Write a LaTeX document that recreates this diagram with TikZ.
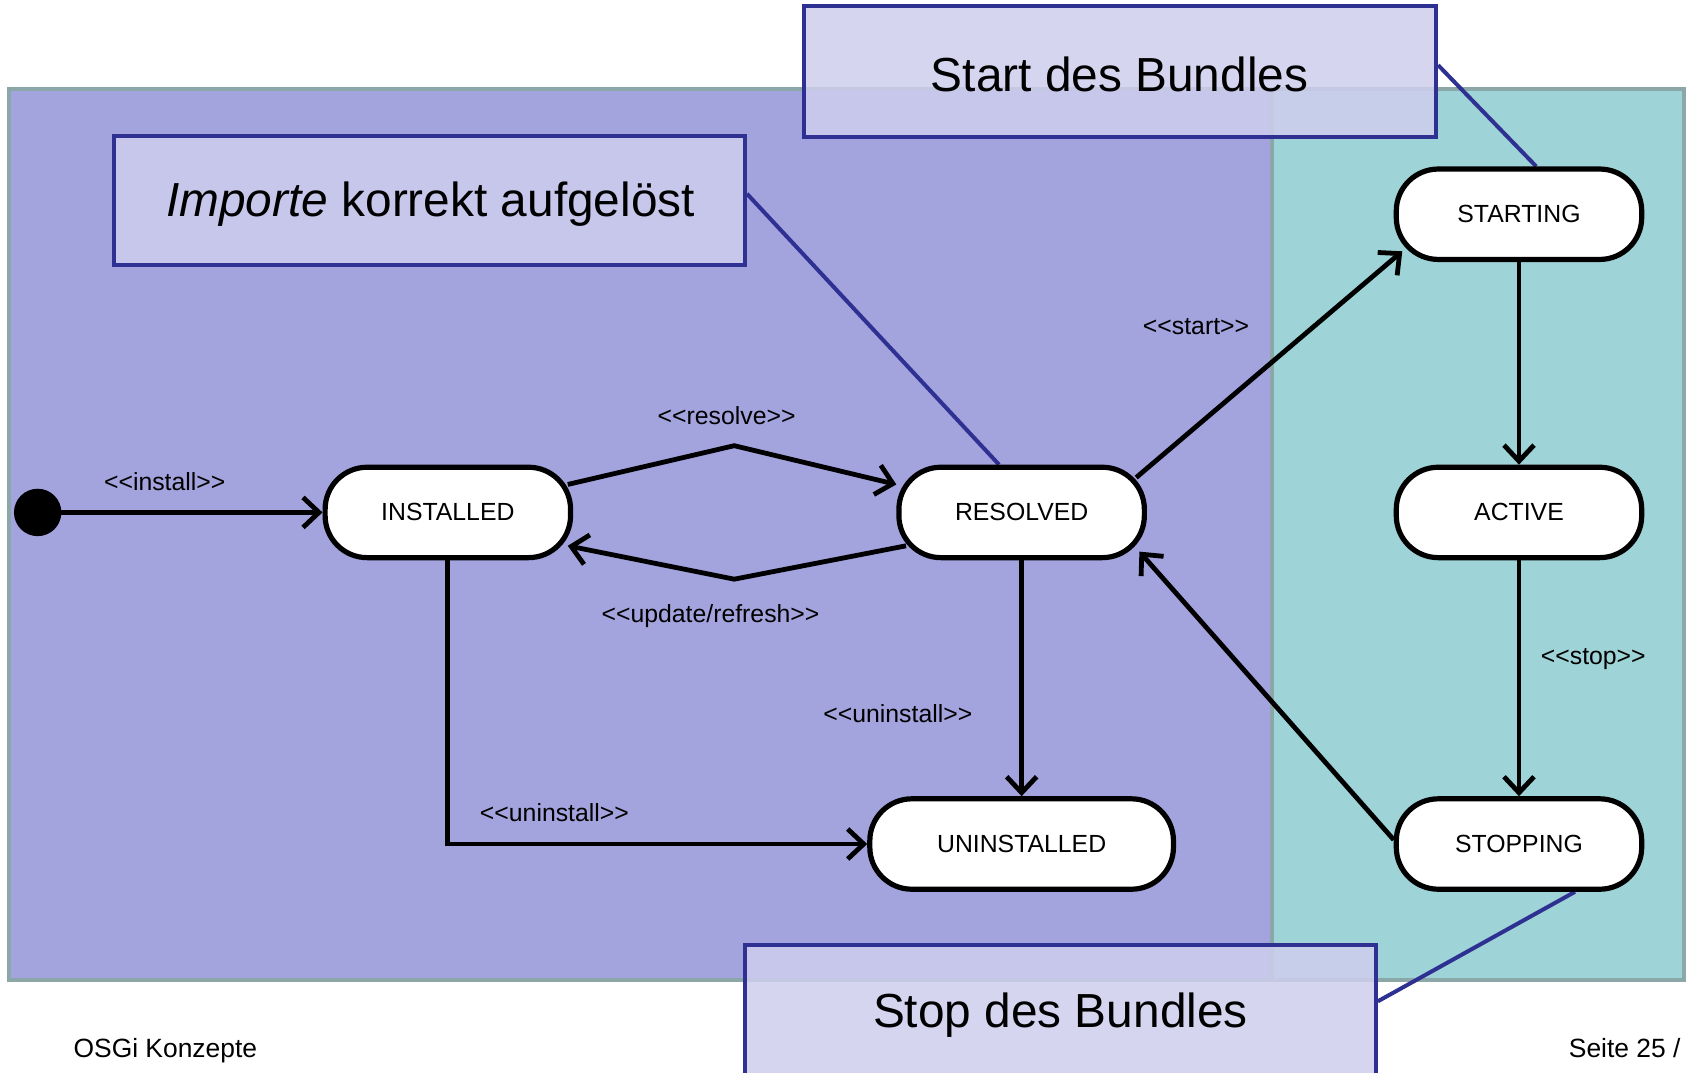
\documentclass[tikz,border=0pt]{standalone}
\usepackage{fontspec}
\setmainfont{Liberation Sans}
\usetikzlibrary{arrows.meta,calc}
\definecolor{regionA}{HTML}{A3A3DE}
\definecolor{regionB}{HTML}{9ED3D7}
\definecolor{regionline}{HTML}{8BA7A8}
\definecolor{notefill}{HTML}{CECEEE}
\definecolor{noteline}{HTML}{2E3192}
\pgfdeclarelayer{bg}
\pgfdeclarelayer{mid}
\pgfdeclarelayer{front}
\pgfsetlayers{bg,mid,main,front}
% stereotype label without the guillemet ligature
\newcommand\stereo[1]{<{}<#1>{}>}
\tikzset{
  state/.style={draw=black, fill=white, line width=2.6pt, rounded corners=21pt,
    minimum width=122.7pt, minimum height=45.2pt, inner sep=0pt,
    font=\fontsize{12.4}{14}\selectfont},
  trans/.style={line width=2.4pt, -{Straight Barb[length=8pt,width=15pt,line width=2.4pt]}},
  lbl/.style={font=\fontsize{12.4}{14}\selectfont, inner sep=0pt},
  note/.style={draw=noteline, line width=2pt, fill=notefill, fill opacity=0.85,
    inner sep=0pt},
  notetext/.style={font=\fontsize{23.9}{28}\selectfont, inner sep=0pt},
  noteconn/.style={draw=noteline, line width=2pt},
  region/.style={draw=regionline, line width=2pt},
  foot/.style={font=\fontsize{13.2}{15}\selectfont, inner sep=0pt}
}
\begin{document}
\begin{tikzpicture}[x=0.5382pt, y=-0.5382pt]
\useasboundingbox (0,0) rectangle (1568,996);
\clip (0,0) rectangle (1568,996);

% page and lifecycle regions
\begin{pgfonlayer}{bg}
  \fill[white] (0,0) rectangle (1568,996);
  \draw[region, fill=regionA] (8,83) rectangle (1182,910);
  \draw[region, fill=regionB] (1182,83) rectangle (1564,910);
\end{pgfonlayer}

% states
\node[circle, fill=black, minimum size=23.7pt, inner sep=0pt] (init) at (35,476) {};
\node[state] (inst) at (416,476) {INSTALLED};
\node[state] (res) at (949,476) {RESOLVED};
\node[state, minimum width=151.8pt] (uninst) at (949,784) {UNINSTALLED};
\node[state] (start) at (1411,199) {STARTING};
\node[state] (act) at (1411,476) {ACTIVE};
\node[state] (stop) at (1411,784) {STOPPING};

% bend points
\coordinate (rsv) at (682,414);
\coordinate (upd) at (682,538);
\coordinate (ucorner) at (416,784);

% transitions
\begin{pgfonlayer}{mid}
  \draw[trans] (init.center) -- (inst.west);
  \draw[trans] ($(inst.east)+(-5,-26)$) -- (rsv) -- ($(res.west)+(0,-26)$);
  \draw[trans] ($(res.west)+(9,31)$) -- (upd) -- ($(inst.east)+(-5,31)$);
  \draw[trans] (inst.south) -- (ucorner) -- (uninst.west);
  \draw[trans] (res.south) -- (uninst.north);
  \draw[trans] ($(res.north east)+(-10,12)$) -- ($(start.south west)+(8,-10)$);
  \draw[trans] (start.south) -- (act.north);
  \draw[trans] (act.south) -- (stop.north);
  \draw[trans] ($(stop.west)+(0,-4)$) -- ($(res.south east)+(-7,-8)$);
\end{pgfonlayer}

% transition labels
\node[lbl] (linstall) at (153,447) {\stereo{install}};
\node[lbl] (lresolve) at (675,386) {\stereo{resolve}};
\node[lbl] (lupdate) at (660,572) {\stereo{update/refresh}};
\node[lbl] (lunin1) at (834,663) {\stereo{uninstall}};
\node[lbl] (lunin2) at (515,755) {\stereo{uninstall}};
\node[lbl] (lstart) at (1111,303) {\stereo{start}};
\node[lbl] (lstop) at (1480,612) {\stereo{stop}};

% annotations
\begin{pgfonlayer}{front}
  \node[note, minimum width=315.9pt, minimum height=65.1pt] (nstart) at (1040.5,66.5) {};
  \node[notetext] (tstart) at (1040,69) {Start des Bundles};
  \node[note, minimum width=315.4pt, minimum height=64.6pt] (nimp) at (399,186) {};
  \node[notetext] (timp) at (400,190) {\textit{Importe} korrekt aufgelöst};
  \node[note, minimum width=315.4pt, minimum height=70pt] (nstop) at (985,943) {};
  \node[notetext] (tstop) at (985,943) {Stop des Bundles};
\end{pgfonlayer}
\begin{pgfonlayer}{mid}
  \draw[noteconn] ($(nstart.east)+(0,-6)$) -- ($(start.north)+(16,0)$);
  \draw[noteconn] ($(nimp.east)+(0,-6)$) -- ($(res.north)+(-21,0)$);
  \draw[noteconn] ($(stop.south)+(52,0)$) -- ($(nstop.north east)+(0,54)$);
\end{pgfonlayer}

% footer
\node[foot, anchor=base west] (ftitle) at (68,982) {OSGi Konzepte};
\node[foot, anchor=base west] (fpage) at (1457,982) {Seite 25 /};
\end{tikzpicture}
\end{document}
